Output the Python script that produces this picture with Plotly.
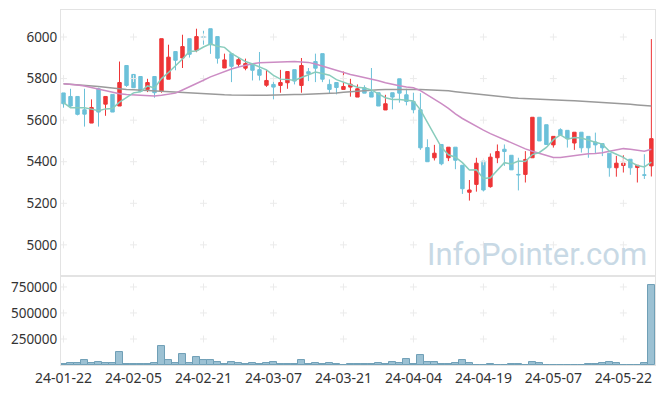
import plotly.graph_objects as go
import pandas as pd

# ---------------- data ----------------
dates = ["24-01-22","24-02-05","24-02-21","24-03-07","24-03-21","24-04-04","24-04-19","24-05-07","24-05-22"]
tick_idx = [0,10,20,30,40,50,60,70,80]

open_ = [5731,5714,5714,5650,5586,5751,5677,5724,5668,5863,
         5820,5810,5748,5810,5738,5797,5930,5899,5992,5936,
         6002,6040,6002,5851,5920,5869,5850,5871,5843,5768,
         5772,5767,5780,5843,5767,5833,5882,5920,5772,5781,
         5748,5759,5711,5756,5735,5732,5649,5732,5799,5722,
         5690,5650,5468,5419,5483,5419,5470,5383,5253,5291,
         5403,5280,5419,5460,5431,5339,5339,5419,5614,5578,
         5481,5554,5551,5490,5542,5522,5495,5487,5441,5371,
         5382,5412,5372,5337,5380]
high = [5731,5751,5714,5751,5700,5756,5714,5724,5882,5863,
        5820,5810,5799,5810,5992,5963,5930,6011,5992,6040,
        6030,6040,6002,5920,5920,5903,5896,5871,5928,5842,
        5788,5842,5834,5843,5899,5851,5920,5920,5796,5781,
        5834,5799,5772,5768,5851,5732,5722,5732,5799,5751,
        5732,5730,5508,5481,5483,5470,5470,5383,5312,5419,
        5403,5440,5483,5483,5431,5419,5451,5614,5614,5578,
        5522,5561,5551,5542,5542,5522,5540,5487,5441,5428,
        5431,5412,5383,5436,5990]
low = [5660,5663,5623,5569,5586,5569,5621,5639,5668,5760,
       5756,5738,5735,5708,5732,5797,5840,5851,5901,5927,
       5963,5919,5872,5851,5783,5855,5840,5791,5791,5760,
       5700,5732,5751,5772,5732,5788,5783,5783,5729,5724,
       5748,5713,5711,5730,5711,5668,5649,5652,5684,5671,
       5633,5457,5400,5406,5383,5403,5364,5245,5213,5256,
       5257,5275,5393,5380,5361,5262,5300,5419,5500,5483,
       5468,5524,5468,5457,5444,5419,5438,5427,5328,5328,
       5348,5337,5300,5317,5329]
close = [5679,5668,5628,5629,5661,5639,5714,5639,5781,5767,
         5756,5738,5781,5732,5992,5903,5888,5954,5917,6002,
         5998,5963,5898,5890,5859,5891,5872,5840,5816,5791,
         5759,5781,5834,5788,5863,5824,5850,5797,5748,5757,
         5762,5773,5751,5730,5711,5668,5679,5711,5730,5690,
         5650,5467,5400,5441,5390,5470,5407,5270,5264,5393,
         5264,5422,5449,5449,5361,5337,5411,5614,5500,5483,
         5522,5527,5511,5542,5467,5467,5481,5467,5371,5393,
         5393,5371,5383,5335,5511]
volume = [10000,23000,23000,43000,17000,33000,17000,23000,120000,13000,
          13000,13000,13000,23000,185000,52000,23000,108000,23000,80000,
          52000,43000,33000,13000,33000,23000,13000,23000,13000,23000,
          33000,13000,13000,13000,43000,13000,23000,13000,23000,13000,
          4000,13000,13000,13000,13000,23000,13000,33000,23000,55000,
          13000,100000,33000,33000,13000,13000,23000,43000,23000,4000,
          4000,13000,4000,1000,13000,13000,4000,33000,23000,4000,
          4000,1000,4000,4000,4000,13000,13000,23000,33000,23000,
          4000,4000,4000,23000,770000]
ma5_head = [5684,5660,5660,5660]
ma20 = [5775,5773,5769,5764,5756,5748,5740,5732,5727,5724,
        5722,5720,5718,5716,5720,5725,5730,5745,5762,5778,
        5792,5808,5822,5835,5846,5856,5864,5871,5876,5878,
        5879,5880,5881,5882,5881,5878,5870,5860,5848,5838,
        5829,5820,5812,5805,5799,5790,5780,5772,5766,5760,
        5756,5742,5722,5700,5680,5657,5630,5608,5588,5570,
        5552,5535,5520,5505,5490,5475,5462,5450,5440,5430,
        5420,5420,5425,5430,5436,5438,5440,5443,5450,5457,
        5463,5460,5455,5450,5460]
ma120 = [5775,5773,5770,5768,5765,5762,5758,5754,5750,5748,
         5746,5744,5742,5740,5738,5736,5734,5731,5729,5727,
         5725,5724,5723,5722,5721,5720,5720,5720,5720,5720,
         5720,5721,5722,5723,5724,5725,5726,5727,5729,5731,
         5734,5737,5740,5742,5744,5746,5747,5748,5749,5749,
         5748,5747,5746,5745,5744,5741,5737,5733,5729,5725,
         5721,5718,5714,5711,5708,5705,5703,5702,5700,5699,
         5698,5696,5694,5693,5691,5690,5688,5687,5685,5682,
         5679,5676,5673,5670,5668]
price_ticks = [5000,5200,5400,5600,5800,6000]
vol_ticks = [250000,500000,750000]

# ---------------- derived ----------------
x = list(range(len(close)))
ma5 = pd.Series(close).rolling(5).mean().tolist()
ma5[:4] = ma5_head

RED = "#ee3436"
BLUE = "#6cc1d9"
FONT = "Noto Sans"

fig = go.Figure()

# grid "+" marks
gx, gy = [], []
for t in tick_idx:
    for p in price_ticks:
        gx.append(t); gy.append(p)
fig.add_trace(go.Scatter(x=gx, y=gy, mode="markers", hoverinfo="skip",
                         marker=dict(symbol="cross-thin", size=5, line=dict(color="#ebebeb", width=1)),
                         xaxis="x", yaxis="y", showlegend=False))
vx, vy = [], []
for t in tick_idx:
    for v in vol_ticks:
        vx.append(t); vy.append(v)
fig.add_trace(go.Scatter(x=vx, y=vy, mode="markers", hoverinfo="skip",
                         marker=dict(symbol="cross-thin", size=5, line=dict(color="#ebebeb", width=1)),
                         xaxis="x2", yaxis="y2", showlegend=False))

fig.add_trace(go.Candlestick(
    x=x, open=open_, high=high, low=low, close=close,
    increasing=dict(line=dict(color=RED, width=1), fillcolor=RED),
    decreasing=dict(line=dict(color=BLUE, width=1), fillcolor=BLUE),
    whiskerwidth=0, xaxis="x", yaxis="y", showlegend=False))

fig.add_trace(go.Scatter(x=x, y=ma120, mode="lines", line=dict(color="#9a9a9a", width=1.5),
                         xaxis="x", yaxis="y", showlegend=False))
fig.add_trace(go.Scatter(x=x, y=ma20, mode="lines", line=dict(color="#cc8cc4", width=1.5),
                         xaxis="x", yaxis="y", showlegend=False))
fig.add_trace(go.Scatter(x=x, y=ma5, mode="lines", line=dict(color="#88ccbc", width=1.5),
                         xaxis="x", yaxis="y", showlegend=False))

fig.add_trace(go.Bar(x=x, y=volume, marker=dict(color="#9cc1d3", line=dict(color="#6f9fb6", width=1)),
                     xaxis="x2", yaxis="y2", showlegend=False))

split = 0.2506
xr = [-0.36, 84.52]
fig.update_layout(
    width=665, height=396,
    margin=dict(l=61, r=9, t=10, b=29),
    paper_bgcolor="white", plot_bgcolor="white",
    bargap=0.0,
    font=dict(family=FONT, size=13, color="#333333"),
    xaxis=dict(domain=[0, 1], range=xr, anchor="y", showticklabels=False, showgrid=False,
               zeroline=False, showline=True, linecolor="#e3e3e3", mirror=True,
               rangeslider=dict(visible=False), ticks=""),
    yaxis=dict(domain=[split, 1], range=[4850, 6130], tickvals=price_ticks,
               showgrid=False, zeroline=False, showline=True, linecolor="#e3e3e3", mirror=True,
               ticks="", tickfont=dict(size=13.5, color="#333333")),
    xaxis2=dict(domain=[0, 1], range=xr, anchor="y2", matches="x", tickvals=tick_idx, ticktext=dates,
                showgrid=False, zeroline=False, showline=True, linecolor="#e3e3e3", mirror=True,
                ticks="", tickfont=dict(size=14, color="#333333")),
    yaxis2=dict(domain=[0, split], range=[0, 855000], tickvals=vol_ticks, tickformat="d",
                showgrid=False, zeroline=False, showline=True, linecolor="#e3e3e3", mirror=True,
                ticks="", tickfont=dict(size=13.5, color="#333333")),
    annotations=[dict(text="InfoPointer.com", xref="paper", yref="paper", x=0.99, y=0.311,
                      xanchor="right", yanchor="middle", showarrow=False,
                      font=dict(family="Roboto", size=31, color="#c8d9e5"))],
    hovermode=False,
)

fig.write_html("out.html", config={"displayModeBar": False},
               post_script="document.body.style.margin='0';")
